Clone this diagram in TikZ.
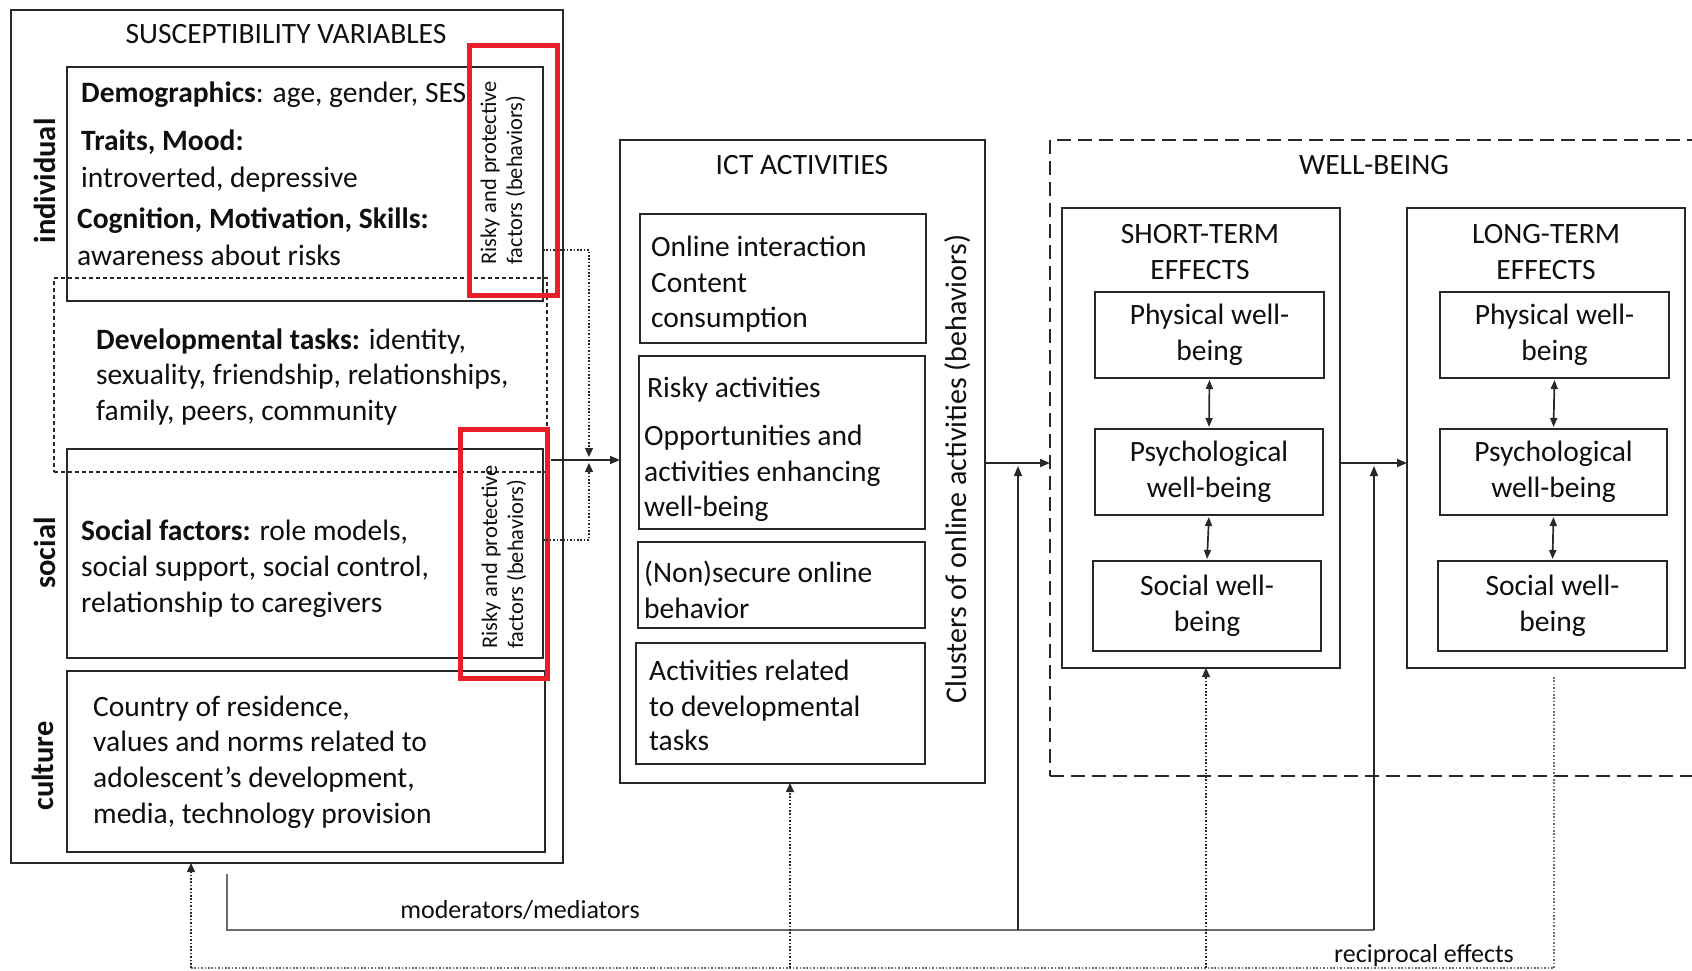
\documentclass[tikz,border=0pt]{standalone}
\usepackage{fontspec}
\setmainfont{Carlito}
\usetikzlibrary{arrows.meta,calc}
\definecolor{linec}{RGB}{40,40,40}
\definecolor{txtc}{RGB}{15,15,15}
\definecolor{redc}{RGB}{232,30,40}
\definecolor{modc}{RGB}{110,110,110}
\newcommand\boxat[6]{\node[#1,minimum width={(#5)-(#3)},minimum height={(#6)-(#4)}] (#2) at (#3,#4) {};}
\begin{document}
\begin{tikzpicture}[x=1pt,y=-1pt,
  bx/.style={draw=linec,line width=2pt,inner sep=0pt,outer sep=0pt,anchor=north west},
  devbox/.style={draw=linec,line width=1.6pt,dash pattern=on 4pt off 3pt,inner sep=0pt,outer sep=0pt,anchor=north west},
  wbbox/.style={draw=linec,line width=2.3pt,dash pattern=on 14pt off 7pt,inner sep=0pt,outer sep=0pt,anchor=north west},
  redbox/.style={draw=redc,line width=5pt,inner sep=0pt,outer sep=0pt,anchor=north west},
  txt/.style={font=\fontsize{29.5}{36}\selectfont,inner sep=0pt,anchor=base west,text=txtc},
  ttl/.style={font=\fontsize{29.5}{36}\selectfont,inner sep=0pt,anchor=base,text=txtc},
  ctr/.style={font=\fontsize{29.5}{36}\selectfont,inner sep=0pt,align=center,text=txtc},
  side/.style={font=\fontsize{30.5}{36}\selectfont\bfseries,inner sep=0pt,rotate=90,text=txtc},
  redtxt/.style={font=\fontsize{22.4}{26}\selectfont,inner sep=0pt,rotate=90,align=left,text=txtc},
  arr/.style={draw=linec,line width=1.7pt,-{Triangle[length=10pt,width=8pt]}},
  arrtwo/.style={draw=linec,line width=1.7pt,{Triangle[length=9pt,width=7pt]}-{Triangle[length=9pt,width=7pt]},shorten <=2pt,shorten >=2pt},
  modl/.style={draw=modc,line width=1.5pt},
  dotl/.style={draw=linec,line width=1.3pt,dash pattern=on 1.6pt off 1.8pt},
  dotarr/.style={dotl,-{Triangle[length=9pt,width=8pt]}}
]
\useasboundingbox (0,0) rectangle (1692,971);
\fill[white] (0,0) rectangle (1692,971);

% ---------- susceptibility ----------
\boxat{bx}{sus}{11}{10}{563}{863}
\boxat{bx}{ind}{67}{67}{543}{301}
\boxat{bx}{soc}{67}{449}{543}{658}
\boxat{bx}{cul}{67}{671}{545}{852}
\boxat{devbox}{dev}{54}{278}{547}{472}

\node[ttl] (sustitle) at (286,44) {SUSCEPTIBILITY VARIABLES};

\node[side] (lind) at (45,181) {individual};
\node[side] (lsoc) at (45,553) {social};
\node[side] (lcul) at (43,766) {culture};

\node[txt] (i1) at (81,103) {\textbf{Demographics}: age, gender, SES};
\node[txt] (i2) at (81,150) {\textbf{Traits, Mood:}};
\node[txt] (i3) at (81,187) {introverted, depressive};
\node[txt] (i4) at (77,228) {\textbf{Cognition, Motivation, Skills:}};
\node[txt] (i5) at (77,265) {awareness about risks};

\node[txt] (d1) at (96,349) {\textbf{Developmental tasks:} identity,};
\node[txt] (d2) at (96,384) {sexuality, friendship, relationships,};
\node[txt] (d3) at (96,420) {family, peers, community};

\node[txt] (s1) at (81,540) {\textbf{Social factors:} role models,};
\node[txt] (s2) at (81,576) {social support, social control,};
\node[txt] (s3) at (81,612) {relationship to caregivers};

\node[txt] (c1) at (93,716) {Country of residence,};
\node[txt] (c2) at (93,751) {values and norms related to};
\node[txt] (c3) at (93,787) {adolescent’s development,};
\node[txt] (c4) at (93,823) {media, technology provision};

\node[redtxt] (rt1) at (503,173) {Risky and protective\\factors (behaviors)};
\node[redtxt] (rt2) at (504,557) {Risky and protective\\factors (behaviors)};
\boxat{redbox}{red1}{469}{46}{557}{295}
\boxat{redbox}{red2}{460}{429}{547}{678}

% ---------- ICT ----------
\boxat{bx}{ict}{620}{140}{985}{783}
\boxat{bx}{ict1}{640}{214}{926}{343}
\boxat{bx}{ict2}{639}{356}{925}{529}
\boxat{bx}{ict3}{638}{542}{925}{628}
\boxat{bx}{ict4}{636}{643}{925}{764}
\node[ttl] (icttitle) at (802,175) {ICT ACTIVITIES};
\node[txt] (a1) at (651,256) {Online interaction};
\node[txt] (a2) at (651,292) {Content};
\node[txt] (a3) at (651,327) {consumption};
\node[txt] (b1) at (647,397) {Risky activities};
\node[txt] (b2) at (644,445) {Opportunities and};
\node[txt] (b3) at (644,481) {activities enhancing};
\node[txt] (b4) at (644,516) {well-being};
\node[txt] (e1) at (644,582) {(Non)secure online};
\node[txt] (e2) at (644,618) {behavior};
\node[txt] (f1) at (649,680) {Activities related};
\node[txt] (f2) at (649,716) {to developmental};
\node[txt] (f3) at (649,750) {tasks};
\node[font=\fontsize{30}{36}\selectfont,inner sep=0pt,rotate=90,text=txtc] (clu) at (958,469) {Clusters of online activities (behaviors)};

% ---------- well-being ----------
\begin{scope}
\clip (0,0) rectangle (1692,971);
\boxat{wbbox}{wb}{1050}{140}{1740}{776}
\end{scope}
\node[ttl] (wbtitle) at (1374,175) {WELL-BEING};
\boxat{bx}{st}{1062}{208}{1340}{668}
\boxat{bx}{lt}{1407}{208}{1685}{668}
\node[ttl] (stt1) at (1200,243) {SHORT-TERM};
\node[ttl] (stt2) at (1200,279) {EFFECTS};
\node[ttl] (ltt1) at (1546,243) {LONG-TERM};
\node[ttl] (ltt2) at (1546,279) {EFFECTS};
\boxat{bx}{st1}{1095}{292}{1324}{378}
\boxat{bx}{st2}{1095}{429}{1323}{515}
\boxat{bx}{st3}{1093}{561}{1321}{651}
\boxat{bx}{lt1}{1440}{292}{1669}{378}
\boxat{bx}{lt2}{1440}{429}{1667}{515}
\boxat{bx}{lt3}{1438}{561}{1667}{651}
\node[ctr] (st1t) at (st1.center) {Physical well-\\being};
\node[ctr] (st2t) at (st2.center) {Psychological\\well-being};
\node[ctr] (st3t) at (st3.center) {Social well-\\being};
\node[ctr] (lt1t) at (lt1.center) {Physical well-\\being};
\node[ctr] (lt2t) at (lt2.center) {Psychological\\well-being};
\node[ctr] (lt3t) at (lt3.center) {Social well-\\being};

\draw[arrtwo] (st1.south) -- (st2.north);
\draw[arrtwo] (st2.south) -- (st3.north);
\draw[arrtwo] (lt1.south) -- (lt2.north);
\draw[arrtwo] (lt2.south) -- (lt3.north);

% ---------- main arrows ----------
\coordinate (j1) at (551,460);
\draw[arr] (j1) -- (j1 -| ict.west);
\coordinate (dv1) at (589,457);
\coordinate (dv2) at (589,463);
\draw[dotarr] ($(ind.south east)+(0,-51)$) -| (dv1);
\draw[dotarr] ($(soc.north east)+(0,91)$) -| (dv2);
\coordinate (lvl) at (0,463);
\draw[arr] (ict.east |- lvl) -- (wb.west |- lvl);
\draw[arr] (st.east |- lvl) -- (lt.west |- lvl);

% moderators / mediators
\coordinate (m0) at (227,874);
\coordinate (m1) at (1018,930);
\coordinate (m2) at (1374,930);
\draw[modl] (m0) |- (m2);
\draw[modl,draw=linec,-{Triangle[length=10pt,width=8pt]}] (m1) -- ($(m1 |- lvl)+(0,3)$);
\draw[modl,draw=linec,-{Triangle[length=10pt,width=8pt]}] (m2) -- ($(m2 |- lvl)+(0,3)$);
\node[font=\fontsize{26}{30}\selectfont,inner sep=0pt,text=txtc] (modlab) at (520,910) {moderators/mediators};

% reciprocal effects
\coordinate (r0) at (1554,677);
\coordinate (r1) at (191,968);
\coordinate (r2) at (790,968);
\coordinate (r3) at (1206,968);
\draw[dotl,draw=modc] (r0) |- (r1);
\draw[dotarr] (r1) -- (r1 |- sus.south);
\draw[dotarr] (r2) -- (r2 |- ict.south);
\draw[dotarr] (r3) -- (r3 |- st.south);
\node[font=\fontsize{26}{30}\selectfont,inner sep=0pt,text=txtc] (reclab) at (1424,956) {reciprocal effects};
\end{tikzpicture}
\end{document}
